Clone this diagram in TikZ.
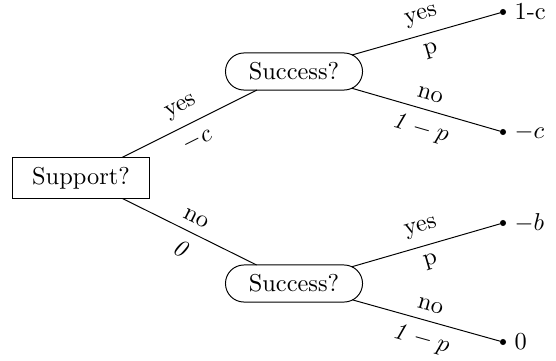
\documentclass[tikz,border=0pt]{standalone}
\usetikzlibrary{shapes.misc}
\begin{document}
\begin{tikzpicture}[x=0.41pt,y=-0.41pt,
  box/.style={draw,rectangle,minimum width=55.8pt,minimum height=16.8pt,inner sep=1pt,outer sep=0pt},
  pill/.style={draw,rounded rectangle,minimum width=58.2pt,minimum height=15.2pt,inner sep=1pt,outer sep=0pt},
  leaf/.style={circle,fill,inner sep=0pt,minimum size=2.5pt,outer sep=0pt,label distance=2.3pt},
  lab/.style={sloped,inner sep=3.8pt}]
\useasboundingbox (0,0) rectangle (556,360);
\node[box] (sup) at (81,178) {Support?};
\node[pill] (s1) at (294,71.5) {Success?};
\node[pill] (s2) at (294,283.5) {Success?};
\node[leaf,label=right:1-c] (l1) at (503,12) {};
\node[leaf,label=right:$-c$] (l2) at (503,132) {};
\node[leaf,label=right:$-b$] (l3) at (503,223) {};
\node[leaf,label=right:0] (l4) at (503,342) {};
\draw (sup) -- node[lab,above]{yes} node[lab,below]{$-c$} (s1);
\draw (sup) -- node[lab,above]{no} node[lab,below]{\textit{0}} (s2);
\draw (s1) -- node[lab,above]{yes} node[lab,below]{p} (l1);
\draw (s1) -- node[lab,above]{no} node[lab,below]{$\mathit{1}-p$} (l2);
\draw (s2) -- node[lab,above]{yes} node[lab,below]{p} (l3);
\draw (s2) -- node[lab,above]{no} node[lab,below]{$\mathit{1}-p$} (l4);
\end{tikzpicture}
\end{document}
